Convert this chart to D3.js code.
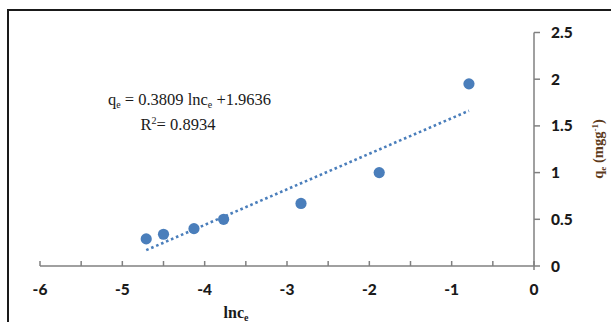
<!DOCTYPE html>
<html>
<head>
<meta charset="utf-8">
<script src="https://cdn.jsdelivr.net/npm/d3@7"></script>
<style>
  html, body { margin: 0; padding: 0; background: #fff; }
  svg { display: block; }
</style>
</head>
<body>
<svg id="chart" width="611" height="322"></svg>
<script>
// Observed points: ln(Ce) against qe
const lnCe = [-4.71, -4.50, -4.13, -3.77, -2.83, -1.88, -0.79];
const qe   = [0.29, 0.34, 0.40, 0.50, 0.67, 1.00, 1.95];

// Linear fit (Temkin form) and its goodness of fit
const fitSlope = 0.3809;
const fitIntercept = 1.9636;
const rSquared = 0.8934;

// Axis ticks
const xTicks = [-6, -5, -4, -3, -2, -1, 0];
const xMinorTicks = [-6, -5.5, -5, -4.5, -4, -3.5, -3, -2.5, -2, -1.5, -1, -0.5, 0];
const yTicks = [0, 0.5, 1, 1.5, 2, 2.5];

const svg = d3.select("#chart");
const x = d3.scaleLinear().domain([-6, 0]).range([40, 534]);
const y = d3.scaleLinear().domain([0, 2.5]).range([266, 32.5]);

const axisColor = "#808080";
const blue = "#4a7ebb";
const tickFont = "Lato, 'Open Sans', sans-serif";
const serif = "'Liberation Serif', 'Times New Roman', serif";

// Chart frame
svg.append("rect")
  .attr("x", 8).attr("y", 10)
  .attr("width", 620).attr("height", 330)
  .attr("fill", "none").attr("stroke", "#1a1a1a").attr("stroke-width", 2);

// X axis: line with small upward ticks every 0.5
const xAxis = svg.append("g").attr("transform", `translate(0,${y(0)})`);
xAxis.append("line")
  .attr("x1", x(-6)).attr("x2", x(0))
  .attr("stroke", axisColor).attr("stroke-width", 1.5);
xAxis.selectAll("line.tick").data(xMinorTicks).join("line")
  .attr("class", "tick")
  .attr("x1", d => x(d)).attr("x2", d => x(d))
  .attr("y1", 0).attr("y2", -5)
  .attr("stroke", axisColor).attr("stroke-width", 1.5);
xAxis.selectAll("text").data(xTicks).join("text")
  .attr("x", d => x(d)).attr("y", 29)
  .attr("text-anchor", "middle")
  .attr("font-family", tickFont)
  .attr("font-weight", "900").attr("font-size", 15.5)
  .attr("fill", "#1a1a1a")
  .text(d => String(d));

// Y axis on the right, ticks pointing outward
const yAxis = svg.append("g").attr("transform", `translate(${x(0)},0)`);
yAxis.append("line")
  .attr("y1", y(2.5)).attr("y2", y(0) + 4)
  .attr("stroke", axisColor).attr("stroke-width", 1.5);
yAxis.selectAll("line.tick").data(yTicks).join("line")
  .attr("class", "tick")
  .attr("y1", d => y(d)).attr("y2", d => y(d))
  .attr("x1", 0).attr("x2", 6)
  .attr("stroke", axisColor).attr("stroke-width", 1.5);
yAxis.selectAll("text").data(yTicks).join("text")
  .attr("x", 17).attr("y", d => y(d)).attr("dy", "0.36em")
  .attr("text-anchor", "start")
  .attr("font-family", tickFont)
  .attr("font-weight", "900").attr("font-size", 15.5)
  .attr("fill", "#1a1a1a")
  .text(d => d);

// Fitted line across the observed range
const xr = d3.extent(lnCe);
const fitLine = xr.map(v => [v, fitSlope * v + fitIntercept]);
svg.append("path")
  .datum(fitLine)
  .attr("d", d3.line().x(d => x(d[0])).y(d => y(d[1])))
  .attr("fill", "none").attr("stroke", blue)
  .attr("stroke-width", 2.6).attr("stroke-dasharray", "2.6,2.8");

// Data markers
svg.selectAll("circle.pt").data(lnCe.map((v, i) => [v, qe[i]])).join("circle")
  .attr("class", "pt")
  .attr("cx", d => x(d[0])).attr("cy", d => y(d[1]))
  .attr("r", 5.6).attr("fill", blue);

// Regression equation and R²
const eq = svg.append("text")
  .attr("x", 189.5).attr("y", 105)
  .attr("text-anchor", "middle")
  .attr("font-family", serif)
  .attr("font-size", 16.5).attr("fill", "#1a1a1a");
eq.append("tspan").text("q");
eq.append("tspan").attr("font-size", 10).attr("dy", 3).text("e");
eq.append("tspan").attr("dy", -3).text(` = ${fitSlope} lnc`);
eq.append("tspan").attr("font-size", 10).attr("dy", 3).text("e");
eq.append("tspan").attr("dy", -3).text(` +${fitIntercept}`);

const r2 = svg.append("text")
  .attr("x", 178).attr("y", 130)
  .attr("text-anchor", "middle")
  .attr("font-family", serif)
  .attr("font-size", 16.5).attr("fill", "#1a1a1a");
r2.append("tspan").text("R");
r2.append("tspan").attr("font-size", 10).attr("dy", -6).text("2");
r2.append("tspan").attr("dy", 6).text(`= ${rSquared}`);

// Axis titles
const xt = svg.append("text")
  .attr("x", 236).attr("y", 318)
  .attr("text-anchor", "middle")
  .attr("font-family", serif)
  .attr("font-weight", "bold").attr("font-size", 16).attr("fill", "#1a1a1a");
xt.append("tspan").text("lnc");
xt.append("tspan").attr("font-size", 10).attr("dy", 3).text("e");

const yt = svg.append("text")
  .attr("transform", "translate(603,149) rotate(-90)")
  .attr("text-anchor", "middle")
  .attr("font-family", serif)
  .attr("font-weight", "bold").attr("font-size", 14.5).attr("fill", "#5c3a1a");
yt.append("tspan").text("q");
yt.append("tspan").attr("font-size", 9).attr("dy", 3).text("e");
yt.append("tspan").attr("dy", -3).text(" (mgg");
yt.append("tspan").attr("font-size", 9).attr("dy", -5).text("-1");
yt.append("tspan").attr("dy", 5).text(")");
</script>
</body>
</html>
